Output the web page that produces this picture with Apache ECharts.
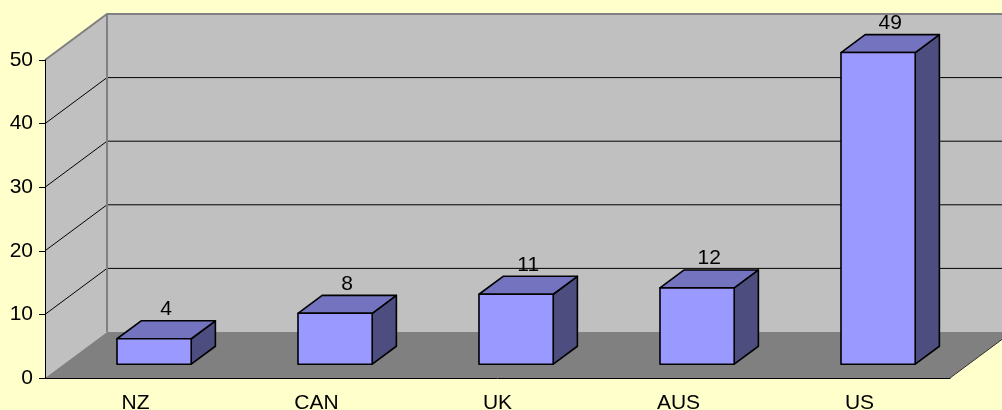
<!DOCTYPE html>
<html><head><meta charset="utf-8">
<script src="https://cdn.jsdelivr.net/npm/echarts@6/dist/echarts.min.js"></script>
<style>html,body{margin:0;padding:0;background:#ffffcc}#c{width:1002px;height:410px}</style>
</head><body><div id="c"></div>
<script>
const categories = ['NZ', 'CAN', 'UK', 'AUS', 'US'];
const values = [4, 8, 11, 12, 49];
const yTicks = [0, 10, 20, 30, 40, 50];

// 3D projection style constants
const DX = 62, DY = -46;
const F1 = 0.30, F2 = 0.69;
const BAR_W = 0.41;
const FONT = 'Liberation Sans, Arial, sans-serif';

const chart = echarts.init(document.getElementById('c'), null, {renderer: 'canvas'});

function wallsItem(params, api) {
  const cs = params.coordSys;
  const L = cs.x, R = cs.x + cs.width;
  const B = api.coord([0, yTicks[0]])[1];
  const T = api.coord([0, yTicks[yTicks.length - 1]])[1];
  const ch = [];
  ch.push({type: 'polygon', shape: {points: [[L + DX, T + DY], [R + DX, T + DY], [R + DX, B + DY], [L + DX, B + DY]]},
    style: {fill: '#c0c0c0'}});
  ch.push({type: 'polygon', shape: {points: [[L, T], [L + DX, T + DY], [L + DX, B + DY], [L, B]]},
    style: {fill: '#c0c0c0'}});
  ch.push({type: 'polygon', shape: {points: [[L, B], [R, B], [R + DX, B + DY], [L + DX, B + DY]]},
    style: {fill: '#808080'}});
  yTicks.forEach(v => {
    if (v === yTicks[0] || v === yTicks[yTicks.length - 1]) return;
    const y = api.coord([0, v])[1];
    ch.push({type: 'polyline', shape: {points: [[L, y], [L + DX, y + DY], [R + DX, y + DY]]},
      style: {stroke: '#000', lineWidth: 1, fill: null}});
  });
  ch.push({type: 'polyline', shape: {points: [[L, T], [L + DX, T + DY], [R + DX, T + DY]]},
    style: {stroke: '#808080', lineWidth: 2, fill: null}});
  ch.push({type: 'line', shape: {x1: L + DX, y1: T + DY, x2: L + DX, y2: B + DY},
    style: {stroke: '#808080', lineWidth: 2}});
  ch.push({type: 'line', shape: {x1: R, y1: B, x2: R + DX, y2: B + DY},
    style: {stroke: '#303030', lineWidth: 1}});
  return {type: 'group', children: ch};
}

function barItem(params, api) {
  const i = api.value(0), v = api.value(1);
  const base = api.coord([i, 0]);
  const top = api.coord([i, v]);
  const band = api.size([1, 0])[0];
  const w = band * BAR_W;
  const ox = DX * F1, oy = DY * F1;
  const dx = DX * (F2 - F1), dy = DY * (F2 - F1);
  const x0 = base[0] - w / 2 + ox, x1 = x0 + w;
  const yb = base[1] + oy, yt = top[1] + oy;
  const st = {stroke: '#000', lineWidth: 1.6, lineJoin: 'round'};
  return {type: 'group', children: [
    {type: 'polygon', shape: {points: [[x1, yt], [x1 + dx, yt + dy], [x1 + dx, yb + dy], [x1, yb]]},
      style: Object.assign({fill: '#4d4d80'}, st)},
    {type: 'polygon', shape: {points: [[x0, yt], [x0 + dx, yt + dy], [x1 + dx, yt + dy], [x1, yt]]},
      style: Object.assign({fill: '#7373bf'}, st)},
    {type: 'polygon', shape: {points: [[x0, yt], [x1, yt], [x1, yb], [x0, yb]]},
      style: Object.assign({fill: '#9999ff'}, st)},
    {type: 'text', style: {text: String(v), x: base[0] + ox + dx / 2, y: yt + dy - 1,
      align: 'center', verticalAlign: 'bottom', fill: '#000', font: '21px ' + FONT}}
  ]};
}

chart.setOption({
  backgroundColor: '#ffffcc',
  animation: false,
  grid: {left: 45, right: 52, top: 60, bottom: 32, containLabel: false, outerBoundsMode: 'none'},
  xAxis: {
    type: 'category', data: categories, z: 10,
    axisLine: {lineStyle: {color: '#000', width: 1}},
    axisTick: {length: 5, lineStyle: {color: '#000'}},
    axisLabel: {color: '#000', fontSize: 21, fontFamily: FONT, margin: 15}
  },
  yAxis: {
    type: 'value', min: 0, max: 50, interval: 10, z: 10,
    axisLine: {show: true, lineStyle: {color: '#000', width: 1}},
    axisTick: {show: true, length: 6, lineStyle: {color: '#000'}},
    axisLabel: {color: '#000', fontSize: 21, fontFamily: FONT, margin: 12},
    splitLine: {show: false}
  },
  series: [
    {type: 'custom', z: 1, renderItem: wallsItem, data: [[0, 0]], silent: true},
    {type: 'custom', z: 2, renderItem: barItem, data: values.map((v, i) => [i, v])}
  ]
});
</script></body></html>
